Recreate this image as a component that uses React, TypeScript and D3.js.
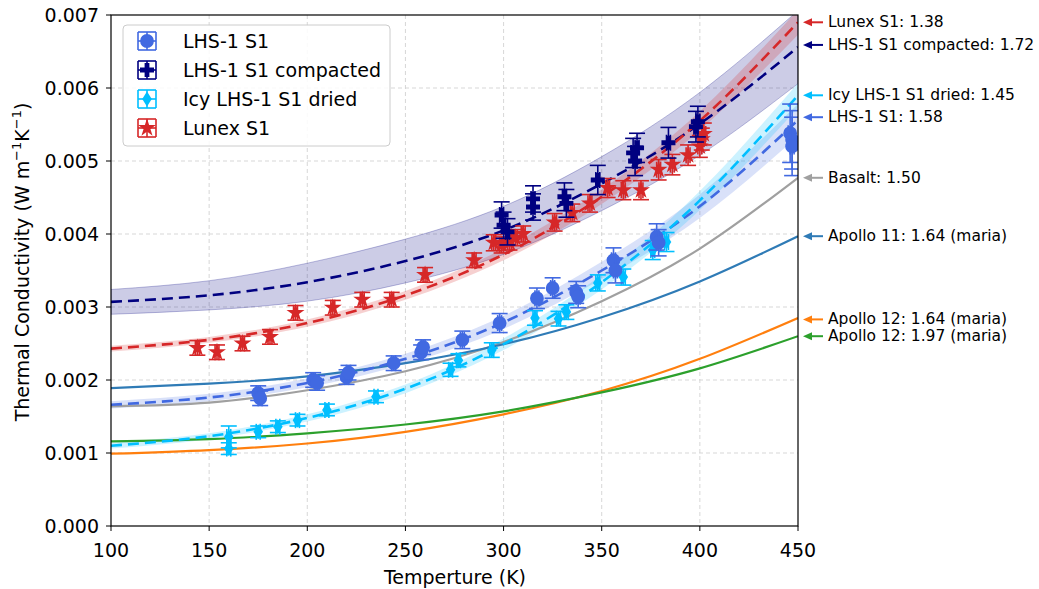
import React from 'react';
import * as d3 from 'd3';

const W = 1039;
const H = 589;

// Axis ticks
const xTicks = [100, 150, 200, 250, 300, 350, 400, 450];
const yTicks = [0, 0.001, 0.002, 0.003, 0.004, 0.005, 0.006, 0.007];

// Temperatures at which the fitted / reference curves were read
const curveT = [100, 150, 200, 250, 300, 350, 400, 450];

// Fitted curves (dashed) with band half-widths
const lunexFit = [0.00243, 0.00255, 0.00278, 0.00316, 0.00372, 0.00451, 0.00555, 0.0069];
const lunexBand = [0.00004, 0.00004, 0.00005, 0.00006, 0.00008, 0.0001, 0.00013, 0.00017];
const compFit = [0.00307, 0.00316, 0.00334, 0.00363, 0.00405, 0.00469, 0.00551, 0.00656];
const compBand = [0.00017, 0.0002, 0.00026, 0.0003, 0.00033, 0.00037, 0.00043, 0.0005];
const lhsFit = [0.00166, 0.00176, 0.00196, 0.00229, 0.00279, 0.0035, 0.00438, 0.00556];
const lhsBand = [0.00005, 0.00005, 0.00006, 0.00007, 0.00009, 0.00012, 0.00016, 0.00022];
const icyFit = [0.0011, 0.00123, 0.00148, 0.00188, 0.00249, 0.00334, 0.00446, 0.0059];
const icyBand = [0.00004, 0.00004, 0.00005, 0.00006, 0.00008, 0.0001, 0.00013, 0.00017];

// Reference curves (solid)
const basalt = [0.00164, 0.00169, 0.00186, 0.00212, 0.00252, 0.00308, 0.0038, 0.00477];
const apollo11 = [0.00189, 0.00195, 0.00205, 0.00223, 0.00249, 0.00286, 0.00335, 0.00397];
const apollo12a = [0.00099, 0.00104, 0.00113, 0.00129, 0.00153, 0.00185, 0.00229, 0.00285];
const apollo12b = [0.00116, 0.00119, 0.00127, 0.00139, 0.00157, 0.00183, 0.00216, 0.0026];

// Measurements
const lunexT = [144, 154, 167, 181, 194, 213, 228, 243, 260, 285, 295, 299, 303, 306, 310, 326, 335, 344, 353, 361, 370, 379, 386, 394, 400, 401, 402];
const lunexK = [0.00244, 0.00238, 0.0025, 0.00259, 0.00292, 0.00299, 0.0031, 0.0031, 0.00344, 0.00364, 0.00388, 0.00385, 0.00389, 0.00395, 0.004, 0.00416, 0.00429, 0.00442, 0.00463, 0.0046, 0.0046, 0.00488, 0.00495, 0.00508, 0.0052, 0.0053, 0.00537];
const lunexE = [0.0001, 0.0001, 0.0001, 0.0001, 0.0001, 0.0001, 0.0001, 0.0001, 0.0001, 0.0001, 0.00011, 0.00011, 0.00011, 0.00011, 0.00011, 0.00012, 0.00012, 0.00012, 0.00013, 0.00013, 0.00013, 0.00014, 0.00014, 0.00014, 0.00015, 0.00015, 0.00015];

const compT = [299, 300, 302, 315, 315, 331, 332, 348, 366, 367, 368, 384, 398, 399];
const compK = [0.00426, 0.00412, 0.00403, 0.00437, 0.00448, 0.00451, 0.00442, 0.00474, 0.00511, 0.005, 0.00518, 0.00525, 0.00547, 0.00554];
const compE = [0.00018, 0.00018, 0.00018, 0.00018, 0.00018, 0.00019, 0.00019, 0.0002, 0.0002, 0.0002, 0.0002, 0.00021, 0.00021, 0.00021];

const lhsT = [175, 176, 203, 205, 220, 221, 244, 258, 259, 279, 298, 317, 325, 337, 338, 356, 357, 378, 379, 446, 447, 447];
const lhsK = [0.00182, 0.00175, 0.002, 0.00196, 0.00204, 0.0021, 0.00223, 0.00238, 0.00245, 0.00255, 0.00278, 0.00312, 0.00326, 0.0032, 0.00314, 0.00364, 0.0035, 0.00396, 0.00388, 0.00538, 0.00529, 0.0052];
const lhsE = [0.0001, 0.0001, 0.0001, 0.0001, 0.0001, 0.0001, 0.0001, 0.0001, 0.0001, 0.00012, 0.00013, 0.00014, 0.00014, 0.00015, 0.00015, 0.00017, 0.00017, 0.00018, 0.00018, 0.0004, 0.0004, 0.0004];

const icyT = [160, 160, 175, 185, 195, 210, 235, 273, 277, 294, 316, 328, 332, 348, 361, 376, 383];
const icyK = [0.00122, 0.00106, 0.00129, 0.00136, 0.00145, 0.00159, 0.00177, 0.00214, 0.00227, 0.00241, 0.00285, 0.00284, 0.00293, 0.00333, 0.00341, 0.00378, 0.00389];
const icyE = [0.00015, 0.00008, 0.00008, 0.00008, 0.00008, 0.00008, 0.00008, 0.00009, 0.00009, 0.0001, 0.0001, 0.0001, 0.0001, 0.00011, 0.00011, 0.00013, 0.00013];

const X_ERR = 1; // K

// Annotation labels
const annLabels = [
  { text: 'Lunex S1: 1.38', color: '#d62728', k: 0.0069 },
  { text: 'LHS-1 S1 compacted: 1.72', color: '#000080', k: 0.00659 },
  { text: 'Icy LHS-1 S1 dried: 1.45', color: '#00bfff', k: 0.0059 },
  { text: 'LHS-1 S1: 1.58', color: '#4169e1', k: 0.0056 },
  { text: 'Basalt: 1.50', color: '#a0a0a0', k: 0.00477 },
  { text: 'Apollo 11: 1.64 (maria)', color: '#2f7bb6', k: 0.00397 },
  { text: 'Apollo 12: 1.64 (maria)', color: '#ff7f0e', k: 0.00283 },
  { text: 'Apollo 12: 1.97 (maria)', color: '#2ca02c', k: 0.0026 },
];

const FONT = '"DejaVu Sans", Verdana, sans-serif';

type Shape = 'circle' | 'plus' | 'diamond' | 'star';

function markerPath(shape: Shape): string {
  if (shape === 'circle') return d3.symbol().type(d3.symbolCircle).size(150)()!;
  if (shape === 'plus') {
    const a = 2.4, b = 7;
    return `M${-a},${-b}H${a}V${-a}H${b}V${a}H${a}V${b}H${-a}V${a}H${-b}V${-a}H${-a}Z`;
  }
  if (shape === 'diamond') return 'M0,-7.5L4.8,0L0,7.5L-4.8,0Z';
  return d3.symbol().type(d3.symbolStar).size(100)()!;
}

export default function App() {
  const x = d3.scaleLinear().domain([100, 450]).range([111, 798]);
  const y = d3.scaleLinear().domain([0, 0.007]).range([526, 15]);

  const line = (vals: number[]) =>
    d3.line<number>().x((_, i) => x(curveT[i])).y((v) => y(v)).curve(d3.curveNatural)(vals) || '';
  const area = (vals: number[], band: number[]) =>
    d3.area<number>()
      .x((_, i) => x(curveT[i]))
      .y0((v, i) => y(v - band[i]))
      .y1((v, i) => y(v + band[i]))
      .curve(d3.curveNatural)(vals) || '';

  const cap = 8;

  const series = (T: number[], K: number[], E: number[], color: string, shape: Shape) => {
    const mp = markerPath(shape);
    return (
      <g>
        {T.map((t, i) => {
          const cx = x(t), cy = y(K[i]);
          const y0 = y(K[i] - E[i]), y1 = y(K[i] + E[i]);
          const x0 = x(t - X_ERR), x1 = x(t + X_ERR);
          return (
            <g key={i} stroke={color} strokeWidth={1.6}>
              <line x1={cx} x2={cx} y1={y0} y2={y1} />
              <line x1={cx - cap} x2={cx + cap} y1={y0} y2={y0} />
              <line x1={cx - cap} x2={cx + cap} y1={y1} y2={y1} />
              <line x1={x0} x2={x1} y1={cy} y2={cy} />
              <line x1={x0} x2={x0} y1={cy - cap} y2={cy + cap} />
              <line x1={x1} x2={x1} y1={cy - cap} y2={cy + cap} />
              <path d={mp} transform={`translate(${cx},${cy})`} fill={color} stroke="none" />
            </g>
          );
        })}
      </g>
    );
  };

  const legendItems: { label: string; color: string; shape: Shape }[] = [
    { label: 'LHS-1 S1', color: '#4169e1', shape: 'circle' },
    { label: 'LHS-1 S1 compacted', color: '#000080', shape: 'plus' },
    { label: 'Icy LHS-1 S1 dried', color: '#00bfff', shape: 'diamond' },
    { label: 'Lunex S1', color: '#d62728', shape: 'star' },
  ];

  return (
    <svg width={W} height={H} style={{ position: 'absolute', left: 0, top: 0 }} fontFamily={FONT}>
      <defs>
        <clipPath id="plotClip">
          <rect x={111} y={15} width={687} height={511} />
        </clipPath>
      </defs>
      <rect x={0} y={0} width={W} height={H} fill="#fff" />

      {/* grid */}
      <g stroke="#d3d3d3" strokeWidth={0.9} strokeDasharray="4,3">
        {xTicks.slice(1, -1).map((t) => (
          <line key={t} x1={x(t)} x2={x(t)} y1={15} y2={526} />
        ))}
        {yTicks.slice(1, -1).map((t) => (
          <line key={t} x1={111} x2={798} y1={y(t)} y2={y(t)} />
        ))}
      </g>

      <g clipPath="url(#plotClip)">
        {/* bands */}
        <path d={area(compFit, compBand)} fill="#000080" fillOpacity={0.2} stroke="#000080" strokeOpacity={0.25} strokeWidth={1} />
        <path d={area(lunexFit, lunexBand)} fill="#d62728" fillOpacity={0.22} />
        <path d={area(lhsFit, lhsBand)} fill="#4169e1" fillOpacity={0.2} />
        <path d={area(icyFit, icyBand)} fill="#00bfff" fillOpacity={0.2} />

        {/* reference curves */}
        <g fill="none" strokeWidth={2.2}>
          <path d={line(basalt)} stroke="#a0a0a0" />
          <path d={line(apollo11)} stroke="#2f7bb6" />
          <path d={line(apollo12a)} stroke="#ff7f0e" />
          <path d={line(apollo12b)} stroke="#2ca02c" />
        </g>

        {/* fitted dashed */}
        <g fill="none" strokeWidth={2.6} strokeDasharray="11,6">
          <path d={line(compFit)} stroke="#000080" />
          <path d={line(lunexFit)} stroke="#d62728" />
          <path d={line(lhsFit)} stroke="#4169e1" />
          <path d={line(icyFit)} stroke="#00bfff" />
        </g>

        {/* data */}
        {series(icyT, icyK, icyE, '#00bfff', 'diamond')}
        {series(lhsT, lhsK, lhsE, '#4169e1', 'circle')}
        {series(lunexT, lunexK, lunexE, '#d62728', 'star')}
        {series(compT, compK, compE, '#000080', 'plus')}
      </g>

      {/* spines */}
      <rect x={111} y={15} width={687} height={511} fill="none" stroke="#000" strokeWidth={1.2} />

      {/* x axis */}
      <g fontSize={19} textAnchor="middle" fill="#000">
        {xTicks.map((t) => (
          <g key={t}>
            <line x1={x(t)} x2={x(t)} y1={526} y2={531} stroke="#000" strokeWidth={1} />
            <text x={x(t)} y={557}>{t}</text>
          </g>
        ))}
        <text x={455} y={584}>Temperture (K)</text>
      </g>

      {/* y axis */}
      <g fontSize={19} textAnchor="end" fill="#000">
        {yTicks.map((t) => (
          <g key={t}>
            <line x1={106} x2={111} y1={y(t)} y2={y(t)} stroke="#000" strokeWidth={1} />
            <text x={99} y={y(t) + 7}>{d3.format('.3f')(t)}</text>
          </g>
        ))}
      </g>
      <text transform="translate(29,262) rotate(-90)" textAnchor="middle" fontSize={19} fill="#000">
        Thermal Conductivity (W m
        <tspan dy={-8} fontSize={13}>−1</tspan>
        <tspan dy={8}>K</tspan>
        <tspan dy={-8} fontSize={13}>−1</tspan>
        <tspan dy={8}>)</tspan>
      </text>

      {/* legend */}
      <g>
        <rect x={123} y={25} width={267} height={121} rx={4} fill="#fff" fillOpacity={0.85} stroke="#cccccc" strokeWidth={1} />
        {legendItems.map((it, i) => {
          const cy = 41 + i * 29;
          const cx = 147;
          const s = 9;
          return (
            <g key={it.label}>
              <g stroke={it.color} strokeWidth={1.6}>
                <line x1={cx - s} x2={cx + s} y1={cy} y2={cy} />
                <line x1={cx} x2={cx} y1={cy - s} y2={cy + s} />
                <line x1={cx - s} x2={cx + s} y1={cy - s} y2={cy - s} />
                <line x1={cx - s} x2={cx + s} y1={cy + s} y2={cy + s} />
                <line x1={cx - s} x2={cx - s} y1={cy - s} y2={cy + s} />
                <line x1={cx + s} x2={cx + s} y1={cy - s} y2={cy + s} />
              </g>
              <path d={markerPath(it.shape)} transform={`translate(${cx},${cy})`} fill={it.color} />
              <text x={183} y={cy + 7} fontSize={19} fill="#000">{it.label}</text>
            </g>
          );
        })}
      </g>

      {/* right annotations */}
      <g fontSize={15.5}>
        {annLabels.map((a) => {
          const yy = y(a.k);
          return (
            <g key={a.text}>
              <line x1={810} x2={823} y1={yy} y2={yy} stroke={a.color} strokeWidth={2} />
              <path d={`M803,${yy}L812,${yy - 4}L812,${yy + 4}Z`} fill={a.color} />
              <text x={828} y={yy + 5} fill="#000">{a.text}</text>
            </g>
          );
        })}
      </g>
    </svg>
  );
}
